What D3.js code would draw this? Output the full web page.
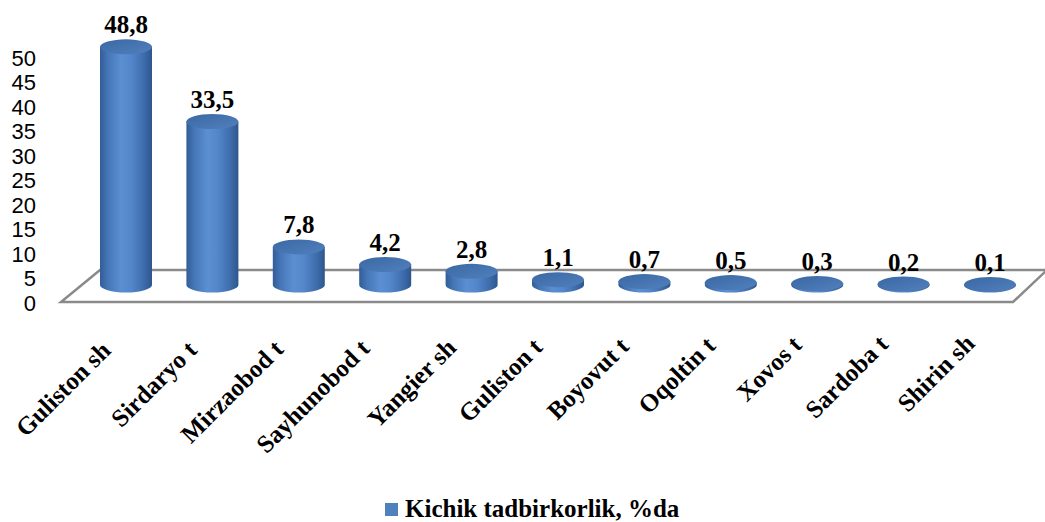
<!DOCTYPE html>
<html>
<head>
<meta charset="utf-8">
<script src="https://cdn.jsdelivr.net/npm/d3@7"></script>
<style>
  body { margin: 0; background: #fff; }
  .axis text { font-family: "Liberation Sans", Arial, sans-serif; font-size: 22px; fill: #000; }
  text.lbl { font-family: "Liberation Serif", "DejaVu Serif", serif; font-weight: bold; font-size: 25px; fill: #000; }
</style>
</head>
<body>
<svg id="chart" width="1045" height="522"></svg>
<script>
// data
const categories = ['Guliston sh', 'Sirdaryo t', 'Mirzaobod t', 'Sayhunobod t', 'Yangier sh',
  'Guliston t', 'Boyovut t', 'Oqoltin t', 'Xovos t', 'Sardoba t', 'Shirin sh'];
const values = [48.8, 33.5, 7.8, 4.2, 2.8, 1.1, 0.7, 0.5, 0.3, 0.2, 0.1];
const yTicks = [0, 5, 10, 15, 20, 25, 30, 35, 40, 45, 50];
const seriesName = 'Kichik tadbirkorlik, %da';

const serif = 'Liberation Serif, DejaVu Serif, serif';
const svg = d3.select('#chart');

// scales
const x = d3.scalePoint().domain(categories).range([126, 990]);
const yAxisScale = d3.scaleLinear().domain([0, 50]).range([303, 58]);
const yBar = d3.scaleLinear().domain([0, 50]).range([285, 41]);
const rx = 26, ry = 7.5;

// gradients
const defs = svg.append('defs');
const bodyGrad = defs.append('linearGradient').attr('id', 'cyl').attr('x1', 0).attr('x2', 1).attr('y1', 0).attr('y2', 0);
[[0, '#325d97'], [0.15, '#4576b7'], [0.4, '#5b8fd2'], [0.6, '#5386ca'], [0.85, '#3d6cab'], [1, '#2e568c']]
  .forEach(s => bodyGrad.append('stop').attr('offset', s[0]).attr('stop-color', s[1]));
const topGrad = defs.append('linearGradient').attr('id', 'cyltop').attr('x1', 0).attr('x2', 1).attr('y1', 0).attr('y2', 1);
[[0, '#3a68a3'], [1, '#5280bd']]
  .forEach(s => topGrad.append('stop').attr('offset', s[0]).attr('stop-color', s[1]));

// floor
const floorPts = [[61, 302], [1013, 302], [1047, 270], [100, 270]];
svg.append('polygon')
  .attr('points', floorPts.map(p => p.join(',')).join(' '))
  .attr('fill', 'none')
  .attr('stroke', '#8a8a8a')
  .attr('stroke-width', 2.5);

// y axis
const yAxis = d3.axisLeft(yAxisScale).tickValues(yTicks).tickSize(0).tickPadding(0);
svg.append('g')
  .attr('class', 'axis')
  .attr('transform', 'translate(36,0)')
  .call(yAxis)
  .call(g => g.select('.domain').remove())
  .call(g => g.selectAll('text').attr('font-family', 'Liberation Sans, Arial, sans-serif').attr('font-size', 22));

// cylinders
const bars = svg.append('g').selectAll('g.bar')
  .data(categories.map((c, i) => ({ name: c, value: values[i] })))
  .join('g')
  .attr('class', 'bar');

bars.append('path')
  .attr('d', d => {
    const cx = x(d.name), yt = yBar(d.value), yb = yBar(0);
    return `M${cx - rx},${yt} L${cx - rx},${yb} A${rx},${ry} 0 0 0 ${cx + rx},${yb} L${cx + rx},${yt} Z`;
  })
  .attr('fill', 'url(#cyl)');

bars.append('ellipse')
  .attr('cx', d => x(d.name))
  .attr('cy', d => yBar(d.value))
  .attr('rx', rx)
  .attr('ry', ry)
  .attr('fill', 'url(#cyltop)');

// value labels
bars.append('text')
  .attr('class', 'lbl')
  .attr('font-family', serif)
  .attr('font-weight', 'bold')
  .attr('font-size', 25)
  .attr('x', d => x(d.name))
  .attr('y', d => yBar(d.value) - ry - 6)
  .attr('text-anchor', 'middle')
  .text(d => String(d.value).replace('.', ','));

// category labels
svg.append('g').selectAll('text')
  .data(categories)
  .join('text')
  .attr('class', 'lbl')
  .attr('font-family', serif)
  .attr('font-weight', 'bold')
  .attr('font-size', 26)
  .attr('text-anchor', 'end')
  .attr('transform', (d, i) => `translate(${x(d) - 14},${352 - i * 0.7}) rotate(-45)`)
  .text(d => d);

// legend
const legend = svg.append('g').attr('transform', 'translate(385,503)');
legend.append('rect').attr('width', 13).attr('height', 13).attr('fill', '#4f81bd');
legend.append('text')
  .attr('class', 'lbl')
  .attr('font-family', serif)
  .attr('font-weight', 'bold')
  .attr('font-size', 27)
  .attr('x', 20)
  .attr('y', 14)
  .text(seriesName);
</script>
</body>
</html>
